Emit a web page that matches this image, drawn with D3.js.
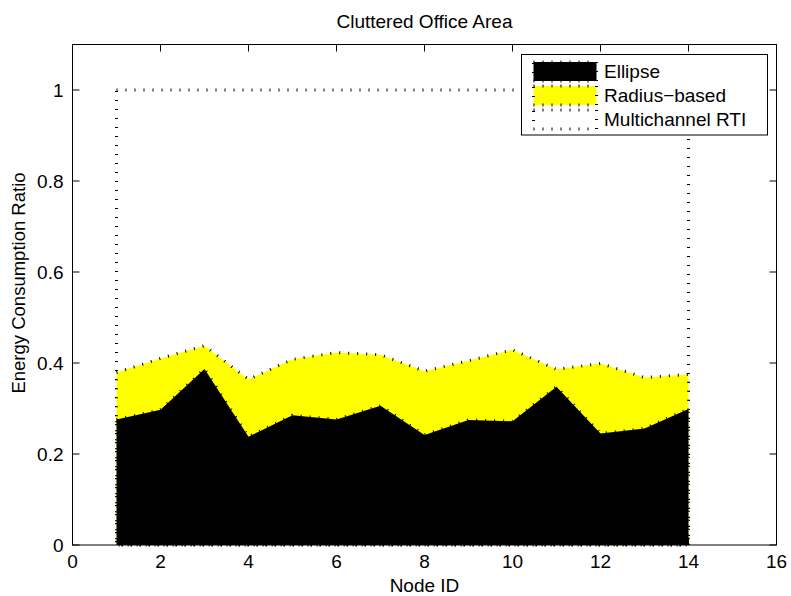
<!DOCTYPE html>
<html>
<head>
<meta charset="utf-8">
<script src="https://cdn.jsdelivr.net/npm/d3@7"></script>
<style>
  body { margin: 0; background: #fff; }
  text { font-family: "Liberation Sans", Arial, Helvetica, sans-serif; }
</style>
</head>
<body>
<div id="chart"></div>
<script>
// valeurs
const nodes = [1, 2, 3, 4, 5, 6, 7, 8, 9, 10, 11, 12, 13, 14];
const ellipse = [0.276, 0.297, 0.387, 0.238, 0.285, 0.276, 0.306, 0.242, 0.275, 0.272, 0.348, 0.245, 0.256, 0.299];
const radiusBased = [0.379, 0.410, 0.438, 0.364, 0.408, 0.423, 0.418, 0.382, 0.405, 0.429, 0.386, 0.399, 0.368, 0.375];
const multichannel = [1, 1, 1, 1, 1, 1, 1, 1, 1, 1, 1, 1, 1, 1];
const xTicks = [0, 2, 4, 6, 8, 10, 12, 14, 16];
const yTicks = [0, 0.2, 0.4, 0.6, 0.8, 1];
const legendLabels = ["Ellipse", "Radius\u2212based", "Multichannel RTI"];

const width = 791, height = 596;
const margin = { left: 72.5, right: 14.5, top: 44.5, bottom: 51 };
const fs = 19;

const svg = d3.select("#chart").append("svg")
  .attr("width", width)
  .attr("height", height);

const x = d3.scaleLinear().domain([0, 16]).range([margin.left, width - margin.right]);
const y = d3.scaleLinear().domain([0, 1.1]).range([height - margin.bottom, margin.top]);

// pointillé façon MATLAB : petits traits perpendiculaires
const dotted = sel => sel
  .attr("stroke", "#000")
  .attr("stroke-width", 3)
  .attr("stroke-dasharray", "1,8")
  .attr("stroke-linecap", "butt");

function areaPath(vals) {
  return d3.area()
    .x((d, i) => x(nodes[i]))
    .y0(y(0))
    .y1(d => y(d))(vals);
}

const series = [
  { vals: multichannel, fill: "#ffffff" },
  { vals: radiusBased, fill: "#ffff00" },
  { vals: ellipse, fill: "#000000" }
];

series.forEach(s => {
  svg.append("path")
    .attr("d", areaPath(s.vals))
    .attr("fill", s.fill)
    .call(dotted);
});

// cadre
const g = svg.append("g");
g.append("rect")
  .attr("x", x(0)).attr("y", y(1.1))
  .attr("width", x(16) - x(0)).attr("height", y(0) - y(1.1))
  .attr("fill", "none").attr("stroke", "#000").attr("stroke-width", 1);

const tl = 7;
xTicks.forEach(t => {
  g.append("line").attr("x1", x(t)).attr("x2", x(t)).attr("y1", y(0)).attr("y2", y(0) - tl).attr("stroke", "#000");
  g.append("line").attr("x1", x(t)).attr("x2", x(t)).attr("y1", y(1.1)).attr("y2", y(1.1) + tl).attr("stroke", "#000");
  g.append("text").attr("x", x(t)).attr("y", y(0) + 23)
    .attr("text-anchor", "middle").attr("font-size", fs).text(t);
});
yTicks.forEach(t => {
  g.append("line").attr("x1", x(0)).attr("x2", x(0) + tl).attr("y1", y(t)).attr("y2", y(t)).attr("stroke", "#000");
  g.append("line").attr("x1", x(16)).attr("x2", x(16) - tl).attr("y1", y(t)).attr("y2", y(t)).attr("stroke", "#000");
  g.append("text").attr("x", x(0) - 9).attr("y", y(t) + 7)
    .attr("text-anchor", "end").attr("font-size", fs).text(String(t));
});

// titres
svg.append("text").attr("x", (x(0) + x(16)) / 2).attr("y", 28)
  .attr("text-anchor", "middle").attr("font-size", fs).text("Cluttered Office Area");
svg.append("text").attr("x", (x(0) + x(16)) / 2).attr("y", 592)
  .attr("text-anchor", "middle").attr("font-size", fs).text("Node ID");
svg.append("text")
  .attr("transform", "translate(25,283) rotate(-90)")
  .attr("text-anchor", "middle").attr("font-size", 18.5).text("Energy Consumption Ratio");

// légende
const lg = svg.append("g");
lg.append("rect").attr("x", 521.5).attr("y", 54.5).attr("width", 246).attr("height", 80.5)
  .attr("fill", "#fff").attr("stroke", "#000");
const legFill = ["#000000", "#ffff00", "#ffffff"];
legendLabels.forEach((lab, i) => {
  const yy = 62 + i * 24;
  lg.append("rect").attr("x", 533.5).attr("y", yy).attr("width", 63).attr("height", 19)
    .attr("fill", legFill[i]).call(dotted);
  lg.append("text").attr("x", 604).attr("y", yy + 16).attr("font-size", fs).text(lab);
});
</script>
</body>
</html>
